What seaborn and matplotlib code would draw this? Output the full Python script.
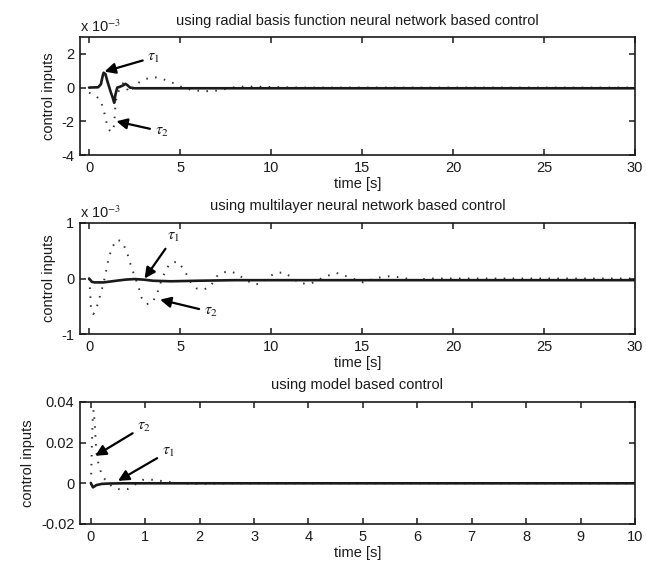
import numpy as np
import pandas as pd
import matplotlib
matplotlib.use("Agg")
import matplotlib.pyplot as plt
import seaborn as sns

# ---- data ----
# RBF neural network control, values in units of 1e-3
rbf_t1_time = [0, 0.5, 0.65, 0.75, 0.8, 0.9, 1.0, 1.1, 1.2, 1.3, 1.38, 1.45, 1.55, 1.7, 1.85, 2.0, 2.1, 2.25, 2.5, 30]
rbf_t1_val = [0, 0.02, 0.2, 0.7, 0.88, 0.8, 0.4, 0.05, -0.3, -0.6, -0.9, -0.4, 0, 0.05, 0.12, 0.22, 0.15, 0, -0.04, -0.04]
rbf_t2_time = [0, 0.3, 0.6, 0.8, 0.9, 1.0, 1.1, 1.2, 1.3, 1.38, 1.42, 1.5, 1.7, 1.9, 2.2, 2.5, 2.8, 3.1, 3.4,
               3.7, 4.0, 4.4, 4.8, 5.2, 5.7, 6.3, 7.0, 7.5, 8.0, 8.5, 9.5, 10.5, 11.5, 30]
rbf_t2_val = [-0.3, -0.45, -0.7, -1.3, -1.8, -2.25, -2.5, -2.62, -2.6, -2.2, -1.4, -0.6, 0.0, 0.3, -0.3, 0.1, 0.35,
              0.5, 0.6, 0.6, 0.52, 0.38, 0.18, -0.02, -0.15, -0.22, -0.18, -0.08, 0.02, 0.06, 0.05, 0.02, 0.0, 0.0]

# multilayer neural network control, units of 1e-3
mlp_t1_time = [0, 0.15, 0.3, 0.8, 1.5, 2.0, 2.5, 3.0, 3.5, 4.5, 6, 8, 30]
mlp_t1_val = [0, -0.06, -0.07, -0.07, -0.04, -0.02, -0.01, -0.02, -0.04, -0.05, -0.04, -0.03, -0.03]
mlp_t2_time = [0, 0.05, 0.1, 0.24, 0.42, 0.7, 0.88, 1.06, 1.25, 1.52, 1.79, 2.07, 2.25, 2.47, 2.71, 2.89, 3.17,
               3.44, 3.72, 3.99, 4.27, 4.54, 4.9, 5.27, 5.55, 5.92, 6.28, 6.65, 7.02, 7.38, 7.75, 8.1, 8.5, 9.0,
               9.4, 9.9, 10.3, 10.7, 11.05, 11.6, 12.2, 13.0, 13.6, 14.15, 15.07, 15.8, 16.5, 17.2, 17.8, 18.7, 30]
mlp_t2_val = [0, -0.2, -0.5, -0.64, -0.52, -0.2, 0.04, 0.34, 0.55, 0.7, 0.67, 0.49, 0.28, 0.07, -0.14, -0.35,
              -0.46, -0.45, -0.29, -0.02, 0.19, 0.29, 0.3, 0.13, -0.05, -0.18, -0.2, -0.15, 0.04, 0.11, 0.13,
              0.09, 0.0, -0.1, -0.1, 0.04, 0.1, 0.11, 0.04, -0.09, -0.09, 0.04, 0.1, 0.04, -0.07, 0.01, 0.04,
              0.02, -0.03, 0.0, 0.0]

# model based control
mb_t1_time = [0, 0.04, 0.1, 0.2, 0.35, 0.6, 10]
mb_t1_val = [0, -0.002, -0.0009, -0.0003, -0.0001, 0, 0]
mb_t2_time = [0, 0.01, 0.02, 0.035, 0.05, 0.07, 0.1, 0.14, 0.18, 0.23, 0.3, 0.41, 0.53, 0.68, 0.78, 0.87,
              0.96, 1.11, 1.26, 1.44, 1.62, 1.87, 2.17, 2.5, 10]
mb_t2_val = [0, 0.008, 0.02, 0.032, 0.036, 0.03, 0.0155, 0.0095, 0.006, 0.003, 0.0005, -0.002, -0.003, -0.0028,
             -0.0012, 0.0005, 0.0017, 0.0018, 0.0013, 0.0006, 0.0001, -0.0002, -0.0002, 0.0, 0.0]

titles = ["using radial basis function neural network based control",
          "using multilayer neural network based control",
          "using model based control"]

# ---- style ----
sns.set_style("ticks")
plt.rcParams['font.family'] = ['Liberation Sans', 'DejaVu Sans']
plt.rcParams['mathtext.fontset'] = 'stix'
plt.rcParams['axes.unicode_minus'] = False
ink = '#1a1a1a'

fig = plt.figure(figsize=(6.46, 5.61), dpi=100)
ax1 = fig.add_axes([0.1238, 0.7237, 0.8591, 0.2103])
ax2 = fig.add_axes([0.1238, 0.4046, 0.8591, 0.1979])
ax3 = fig.add_axes([0.1238, 0.0660, 0.8591, 0.2175])

panels = [
    (ax1, rbf_t1_time, rbf_t1_val, rbf_t2_time, rbf_t2_val),
    (ax2, mlp_t1_time, mlp_t1_val, mlp_t2_time, mlp_t2_val),
    (ax3, mb_t1_time, mb_t1_val, mb_t2_time, mb_t2_val),
]

for i, (ax, tt1, v1, tt2, v2) in enumerate(panels):
    d1 = pd.DataFrame({'time': tt1, 'u': v1})
    d2 = pd.DataFrame({'time': tt2, 'u': v2})
    sns.lineplot(data=d2, x='time', y='u', ax=ax, color='#333333', lw=1.4,
                 linestyle=(0, (0.8, 3.8)), estimator=None, sort=False)
    sns.lineplot(data=d1, x='time', y='u', ax=ax, color=ink, lw=1.9,
                 estimator=None, sort=False)
    ax.set_title(titles[i], fontsize=10.5, color=ink, pad=9)
    ax.set_xlabel('time [s]', fontsize=10.5, color=ink, labelpad=2)
    ax.set_ylabel('control inputs', fontsize=10.5, color=ink, labelpad=4)
    ax.tick_params(direction='in', top=True, right=True, labelsize=10.5,
                   colors=ink, length=4, width=1.1, pad=4)
    for s in ax.spines.values():
        s.set_visible(True)
        s.set_linewidth(1.2)
        s.set_color(ink)

ax1.set_xlim(-0.5, 30)
ax1.set_ylim(-4, 3)
ax1.set_yticks([-4, -2, 0, 2])
ax1.set_xticks([0, 5, 10, 15, 20, 25, 30])

ax2.set_xlim(-0.5, 30)
ax2.set_ylim(-1, 1)
ax2.set_yticks([-1, 0, 1])
ax2.set_xticks([0, 5, 10, 15, 20, 25, 30])

ax3.set_xlim(-0.2, 10)
ax3.set_ylim(-0.02, 0.04)
ax3.set_yticks([-0.02, 0, 0.02, 0.04])
ax3.set_yticklabels(['-0.02', '0', '0.02', '0.04'])
ax3.set_xticks(range(0, 11))

for ax in (ax1, ax2):
    ax.text(0.0, 1.02, r'x 10$^{-3}$', transform=ax.transAxes, fontsize=10.5,
            color=ink, ha='left', va='bottom')

arrow = dict(arrowstyle='-|>', color='black', lw=1.6, mutation_scale=16, shrinkA=1, shrinkB=0)
labels = [
    (ax1, r'$\tau_1$', (3.2, 1.8), (0.85, 0.95)),
    (ax1, r'$\tau_2$', (3.6, -2.6), (1.5, -2.0)),
    (ax2, r'$\tau_1$', (4.3, 0.75), (3.05, 0.0)),
    (ax2, r'$\tau_2$', (6.3, -0.6), (3.9, -0.38)),
    (ax3, r'$\tau_2$', (0.85, 0.028), (0.08, 0.0135)),
    (ax3, r'$\tau_1$', (1.3, 0.0155), (0.5, 0.0012)),
]
for ax, txt, tail, tip in labels:
    ax.annotate(txt, xy=tip, xytext=tail, fontsize=11.5, color=ink,
                ha='left', va='center', arrowprops=arrow)

fig.savefig('out.png', dpi=100)
